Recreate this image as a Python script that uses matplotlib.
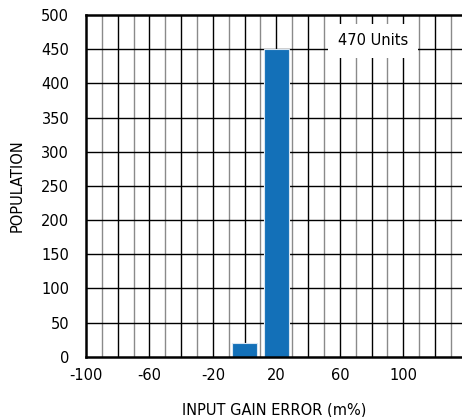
import matplotlib
matplotlib.use('Agg')
import matplotlib.pyplot as plt
import numpy as np

# histogram bins (centre, m%) and counts
bin_centers = [0, 20]
counts = [20, 450]
x_ticks = [-100, -60, -20, 20, 60, 100]
y_ticks = [0, 50, 100, 150, 200, 250, 300, 350, 400, 450, 500]
note = '470 Units'

plt.rcParams['font.family'] = ['DejaVu Sans']
plt.rcParams['axes.unicode_minus'] = False

fig = plt.figure(figsize=(4.62, 4.17), dpi=100)
ax = fig.add_axes([0.186, 0.1446, 0.814, 0.8194])

ax.set_xlim(-100, 137)
ax.set_ylim(0, 500)

# grid: black every 20 / 50, gray at odd tens
for x in range(-90, 140, 20):
    ax.axvline(x, color='#8a8a8a', lw=1.0, zorder=1)
for x in range(-80, 140, 20):
    ax.axvline(x, color='black', lw=1.0, zorder=1)
for y in y_ticks[1:-1]:
    ax.axhline(y, color='black', lw=1.0, zorder=1)

ax.bar(bin_centers, counts, width=15.5, color='#1370b8', edgecolor='#d8e6f2',
       linewidth=0.8, zorder=3)

ax.text(81, 462, note, ha='center', va='center', fontsize=10.5, zorder=4,
        bbox=dict(facecolor='white', edgecolor='none', pad=7))

for s in ['left', 'bottom', 'top']:
    ax.spines[s].set_linewidth(1.8)
    ax.spines[s].set_zorder(5)
ax.spines['right'].set_visible(False)

ax.set_xticks(x_ticks)
ax.set_yticks(y_ticks)
ax.tick_params(length=0, labelsize=10.5, pad=8)
ax.tick_params(axis='y', pad=12)

ax.set_xlabel('INPUT GAIN ERROR (m%)', fontsize=10.5, labelpad=14)
ax.set_ylabel('POPULATION', fontsize=10.5, labelpad=12)

fig.savefig('out.png', dpi=100)
